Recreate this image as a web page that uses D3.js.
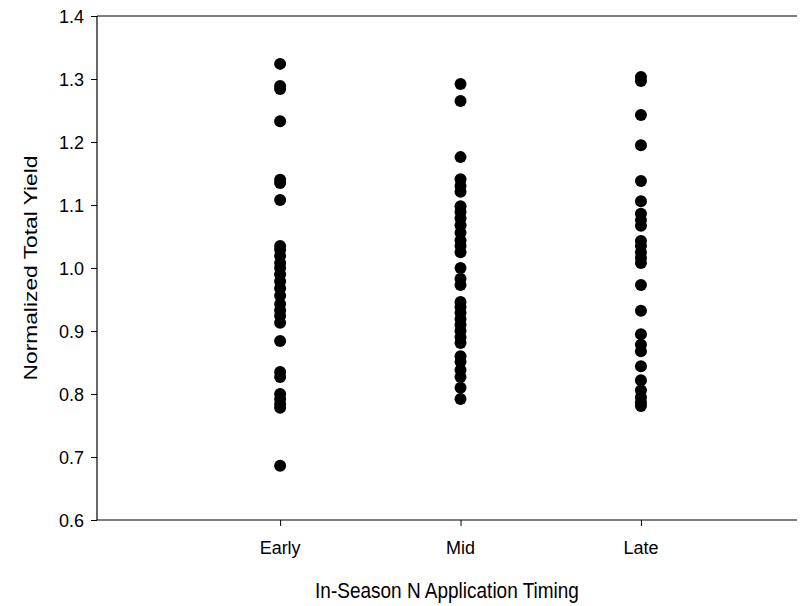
<!DOCTYPE html>
<html>
<head>
<meta charset="utf-8">
<script src="https://cdn.jsdelivr.net/npm/d3@7"></script>
<style>
  body { margin: 0; background: #fff; }
  text { font-family: "Liberation Sans", Arial, sans-serif; fill: #000; }
</style>
</head>
<body>
<div id="chart"></div>
<script>
// categories on the x axis (plotted at positions 1, 2, 3)
const categories = ["Early", "Mid", "Late"];

// normalized total yield
const earlyYield = [1.324, 1.289, 1.284, 1.233, 1.140, 1.135, 1.108,
    1.035, 1.029, 1.019, 1.008, 1.000, 0.990, 0.979, 0.968, 0.956, 0.943, 0.933, 0.924, 0.913,
    0.884, 0.835, 0.827, 0.800, 0.792, 0.784, 0.778, 0.686];
const midYield = [1.292, 1.265, 1.176, 1.141, 1.130, 1.121, 1.098, 1.089, 1.079, 1.068,
    1.056, 1.044, 1.035, 1.025, 1.000, 0.983, 0.973, 0.946, 0.938, 0.929, 0.919, 0.910,
    0.900, 0.890, 0.881, 0.860, 0.851, 0.838, 0.827, 0.810, 0.792];
const lateYield = [1.303, 1.297, 1.243, 1.195, 1.138, 1.106, 1.086, 1.076, 1.067,
    1.043, 1.035, 1.025, 1.016, 1.008, 0.973, 0.932, 0.895, 0.878, 0.868, 0.844,
    0.822, 0.806, 0.795, 0.787, 0.781];

const yTicks = [0.6, 0.7, 0.8, 0.9, 1.0, 1.1, 1.2, 1.3, 1.4];

const width = 809, height = 606;
const plotL = 97, plotR = 797, plotT = 16, plotB = 520;
const tickStretch = 1.05;  // tick text barely stretched
const titleStretch = 1.2;  // titles look a bit taller than wide

const svg = d3.select("#chart").append("svg")
    .attr("width", width)
    .attr("height", height);

const x = d3.scaleLinear().domain([-0.015, 3.865]).range([plotL, plotR]);
const y = d3.scaleLinear().domain([0.6, 1.4]).range([plotB, plotT]);

// points
const series = [earlyYield, midYield, lateYield];
const points = [];
series.forEach((vals, i) => vals.forEach(v => points.push({ pos: i + 1, v: v })));

svg.append("g").selectAll("circle")
    .data(points)
    .enter().append("circle")
    .attr("cx", d => x(d.pos))
    .attr("cy", d => y(d.v))
    .attr("r", 6)
    .attr("fill", "#000");

// y axis (ticks only, labels drawn below)
const yAxis = svg.append("g")
    .attr("transform", `translate(${plotL},0)`)
    .call(d3.axisLeft(y).tickValues(yTicks).tickFormat("").tickSize(6));

// x axis
const xAxis = svg.append("g")
    .attr("transform", `translate(0,${plotB})`)
    .call(d3.axisBottom(x).tickValues([1, 2, 3]).tickFormat("").tickSize(6));

[yAxis, xAxis].forEach(g => {
    g.select(".domain").attr("stroke", "#000").attr("stroke-width", 1.2);
    g.selectAll(".tick line").attr("stroke", "#000").attr("stroke-width", 1);
});
yAxis.select(".domain").attr("d", `M0,${plotT}V${plotB}`);
xAxis.select(".domain").attr("d", `M${plotL},0H${plotR}`);

// top frame line
svg.append("line")
    .attr("x1", plotL).attr("x2", plotR)
    .attr("y1", plotT).attr("y2", plotT)
    .attr("stroke", "#000").attr("stroke-width", 1.2);

// tick labels
svg.append("g").selectAll("text")
    .data(yTicks)
    .enter().append("text")
    .attr("transform", d => `translate(${plotL - 13},${y(d)}) scale(1,${tickStretch})`)
    .attr("dy", "0.36em")
    .attr("text-anchor", "end")
    .style("font-size", "18px")
    .text(d => d3.format(".1f")(d));

svg.append("g").selectAll("text")
    .data(categories)
    .enter().append("text")
    .attr("transform", (d, i) => `translate(${x(i + 1)},554) scale(1,${tickStretch})`)
    .attr("text-anchor", "middle")
    .style("font-size", "18px")
    .text(d => d);

// axis titles
svg.append("text")
    .attr("transform", `translate(${(plotL + plotR) / 2},598) scale(1,${titleStretch})`)
    .attr("text-anchor", "middle")
    .style("font-size", "19px")
    .text("In-Season N Application Timing");

svg.append("text")
    .attr("transform", `translate(37,${(plotT + plotB) / 2}) scale(1,${titleStretch}) rotate(-90)`)
    .attr("text-anchor", "middle")
    .style("font-size", "19px")
    .text("Normalized Total Yield");
</script>
</body>
</html>
